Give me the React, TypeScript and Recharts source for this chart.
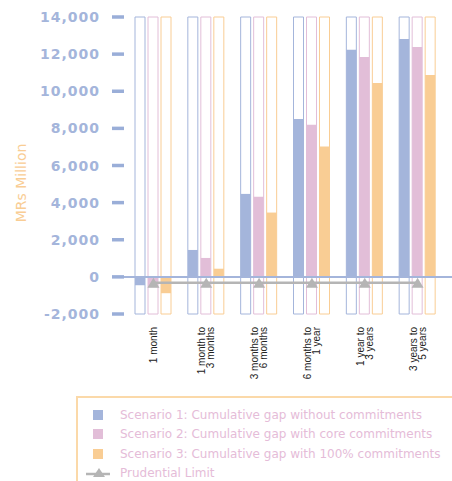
import React from 'react';
import { ComposedChart, Bar, Line, XAxis, YAxis, ReferenceLine } from 'recharts';

const categories = [
  '1 month',
  '1 month to\n3 months',
  '3 months to\n6 months',
  '6 months to\n1 year',
  '1 year to\n3 years',
  '3 years to\n5 years',
];
const scenario1 = [-450, 1450, 4470, 8510, 12230, 12820];
const scenario2 = [-560, 1020, 4310, 8190, 11850, 12390];
const scenario3 = [-880, 440, 3465, 7020, 10450, 10880];
const prudentialLimit = [-320, -320, -320, -320, -320, -320];
const yTicks = [-2000, 0, 2000, 4000, 6000, 8000, 10000, 12000, 14000];

const seriesNames = [
  'Scenario 1: Cumulative gap without commitments',
  'Scenario 2: Cumulative gap with core commitments',
  'Scenario 3: Cumulative gap with 100% commitments',
  'Prudential Limit',
];

const BLUE = '#a4b5db';
const TICK_BLUE = '#9aaed8';
const PINK = '#e2bed8';
const ORANGE = '#f9cd94';
const GRAY = '#b5b5b5';
const LEGEND_TEXT = '#e5bcd8';

const data = categories.map((name, i) => ({
  name,
  s1: scenario1[i],
  s2: scenario2[i],
  s3: scenario3[i],
  limit: prudentialLimit[i],
}));

const fmt = (v: number) => v.toLocaleString('en-US');

const YTick = (props: any) => {
  const { x, y, payload } = props;
  return (
    <g>
      <path d={`M${x + 12},${y - 1.75}h12v3.5h-12z`} fill={TICK_BLUE} stroke="none" />
      <text
        x={x}
        y={y}
        dy={5}
        textAnchor="end"
        fill={BLUE}
        fontFamily="DejaVu Sans"
        fontWeight="bold"
        fontSize={14}
        letterSpacing={1}
      >
        {fmt(payload.value)}
      </text>
    </g>
  );
};

const XTick = (props: any) => {
  const { x, y, payload } = props;
  const lines = String(payload.value).split('\n');
  const n = lines.length;
  return (
    <g transform={`translate(${x},${y + 13})`}>
      <text transform="rotate(-90)" textAnchor="end" fontSize={10} fill="#222" fontFamily="Liberation Sans, Arial">
        {lines.map((l, i) => (
          <tspan key={i} x={0} y={(i - (n - 1) / 2) * 9 + 3.5}>
            {l}
          </tspan>
        ))}
      </text>
    </g>
  );
};

// triangle marker for the prudential limit
const Triangle = (props: any) => {
  const { cx, cy } = props;
  if (cx == null || cy == null) return null;
  return <polygon points={`${cx},${cy - 5} ${cx - 6},${cy + 5} ${cx + 6},${cy + 5}`} fill={GRAY} />;
};

const YLabel = () => (
  <text
    x={26}
    y={183}
    transform="rotate(-90 26 183)"
    textAnchor="middle"
    fill={ORANGE}
    fontFamily="DejaVu Sans"
    fontSize={14}
  >
    MRs Million
  </text>
);

const legendColors = [BLUE, PINK, ORANGE];

const ChartLegend = () => (
  <div
    style={{
      position: 'absolute',
      left: 76,
      top: 396,
      width: 420,
      height: 120,
      border: '2px solid #fbd9a9',
      boxSizing: 'border-box',
      fontFamily: 'DejaVu Sans',
      fontSize: 12,
      color: LEGEND_TEXT,
    }}
  >
    {seriesNames.map((name, i) => (
      <div key={name} style={{ position: 'absolute', left: 0, top: 8 + i * 19.4, height: 18, display: 'flex', alignItems: 'center' }}>
        <svg width={40} height={18} style={{ display: 'block' }}>
          {i < 3 ? (
            <rect x={15} y={4} width={10} height={10} fill={legendColors[i]} />
          ) : (
            <g>
              <line x1={8} x2={32} y1={10} y2={10} stroke={GRAY} strokeWidth={2.5} />
              <polygon points="21,4 15,13 27,13" fill={GRAY} />
            </g>
          )}
        </svg>
        <span style={{ whiteSpace: 'nowrap', marginLeft: 2 }}>{name}</span>
      </div>
    ))}
  </div>
);

export default function App() {
  return (
    <div style={{ position: 'absolute', left: 0, top: 0, width: 452, height: 481, overflow: 'hidden', background: '#fff' }}>
      <ComposedChart
        width={452}
        height={481}
        data={data}
        margin={{ top: 17, right: 0, left: 0, bottom: 107 }}
        barSize={10}
        barGap={3}
      >
        <XAxis
          dataKey="name"
          axisLine={false}
          tickLine={false}
          tickSize={0}
          tickMargin={0}
          interval={0}
          height={60}
          padding={{ left: 3, right: 8 }}
          tick={<XTick />}
        />
        <YAxis
          width={124}
          domain={[-2000, 14000]}
          ticks={yTicks}
          allowDataOverflow
          axisLine={false}
          tickLine={false}
          tickSize={11}
          tickMargin={13}
          tick={<YTick />}
          label={<YLabel />}
        />
        <Bar dataKey="s1" fill={BLUE} background={{ fill: '#fff', stroke: BLUE, strokeWidth: 1 }} isAnimationActive={false} />
        <Bar dataKey="s2" fill={PINK} background={{ fill: '#fff', stroke: PINK, strokeWidth: 1 }} isAnimationActive={false} />
        <Bar dataKey="s3" fill={ORANGE} background={{ fill: '#fff', stroke: ORANGE, strokeWidth: 1 }} isAnimationActive={false} />
        <ReferenceLine y={0} stroke={BLUE} strokeWidth={2} />
        <Line
          dataKey="limit"
          type="linear"
          stroke={GRAY}
          strokeWidth={2.5}
          dot={<Triangle />}
          activeDot={false}
          isAnimationActive={false}
        />
      </ComposedChart>
      <ChartLegend />
    </div>
  );
}
